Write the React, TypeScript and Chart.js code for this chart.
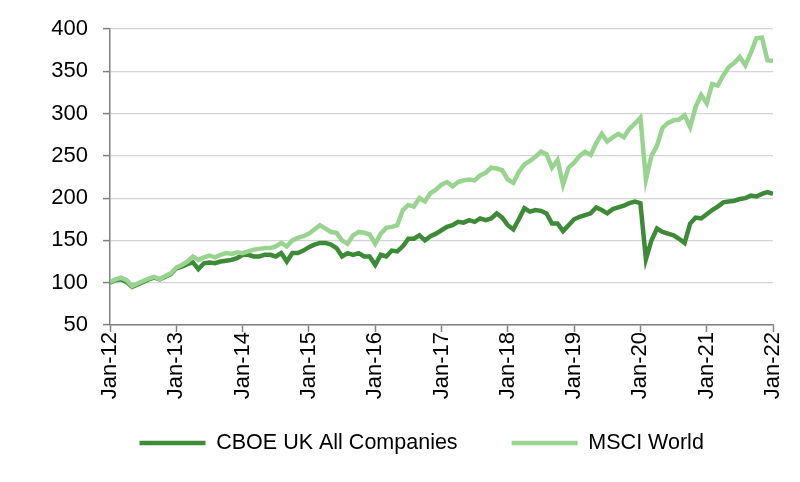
import React, { useEffect, useRef } from "react";
import { Chart, registerables } from "chart.js";

Chart.register(...registerables);

// Month index 0 = Jan-12 ... 120 = Jan-22
const xTickLabels = ["Jan-12", "Jan-13", "Jan-14", "Jan-15", "Jan-16", "Jan-17", "Jan-18", "Jan-19", "Jan-20", "Jan-21", "Jan-22"];

const seriesNames = ["CBOE UK All Companies", "MSCI World"];

const ukAllCompanies = [
  100, 103, 104, 101, 95, 98, 101, 104, 106, 104, 107, 110,
  117, 119, 122, 124, 116, 123, 124, 123, 125, 126, 127, 129,
  133, 133, 131, 131, 133, 133, 131, 135, 125, 135, 135, 138,
  142, 145, 147, 147, 145, 141, 131, 135, 133, 135, 131, 131,
  121, 133, 131, 138, 137, 143, 152, 152, 156, 150, 155, 158,
  162, 166, 168, 172, 171, 174, 172, 176, 174, 176, 182, 177,
  168, 163, 175, 188, 184, 186, 185, 182, 170, 170, 161, 168,
  175, 178, 180, 182, 189, 186, 182, 187, 189, 191, 194, 196,
  194, 128, 150, 164, 160, 158, 156, 152, 147, 170, 177, 176,
  181, 186, 190, 195, 196, 197, 199, 200, 203, 202, 205, 207,
  205,
];

const msciWorld = [
  101, 104, 106, 103, 96, 99, 102, 105, 107, 104, 108, 111,
  118, 121, 125, 131, 127, 130, 132, 130, 133, 135, 134, 136,
  135, 137, 139, 140, 141, 141, 143, 147, 143, 150, 153, 155,
  158, 163, 168, 164, 160, 159, 150, 146, 156, 160, 159, 157,
  146, 158, 165, 166, 168, 186, 192, 190, 200, 196, 206, 210,
  216, 219, 214, 219, 221, 222, 221, 227, 230, 236, 235, 233,
  222, 218, 231, 240, 244, 249, 255, 252, 236, 245, 216, 236,
  242, 250, 255, 251, 265, 276, 267, 272, 276, 272, 282, 288,
  295, 222, 250, 262, 283, 289, 292, 293, 298, 284, 308, 322,
  312, 335, 333, 345, 355, 360, 367, 357, 372, 389, 390, 363,
  362,
];

const darkGreen = "#3d8a37";
const lightGreen = "#98d38f";
const FONT = "'Liberation Sans', Arial, sans-serif";
const LEGEND_PAD = 54;

// Places the legend row (built by Chart.js) where the reference shows it.
const legendPlacer = {
  id: "legendPlacer",
  afterLayout(chart: any) {
    const lg = chart.legend;
    if (!lg) return;
    const h = lg.height;
    lg.top = 443 - LEGEND_PAD - 10.75;
    lg.bottom = lg.top + h;
    const w = lg.width;
    const lw = lg.lineWidths ? lg.lineWidths[0] : 0;
    const start = 139.5;
    const left = (2 * start - LEGEND_PAD - w + lw) / 2;
    lg.left = left;
    lg.right = left + w;
  },
};

export default function App() {
  const canvasRef = useRef<HTMLCanvasElement | null>(null);

  useEffect(() => {
    if (!canvasRef.current) return;
    const chart = new Chart(canvasRef.current, {
      type: "line",
      data: {
        datasets: [
          {
            label: seriesNames[0],
            data: ukAllCompanies.map((v, i) => ({ x: i, y: v })),
            borderColor: darkGreen,
            backgroundColor: darkGreen,
            borderWidth: 4.5,
            pointRadius: 0,
            tension: 0,
            order: 2,
          },
          {
            label: seriesNames[1],
            data: msciWorld.map((v, i) => ({ x: i, y: v })),
            borderColor: lightGreen,
            backgroundColor: lightGreen,
            borderWidth: 4.5,
            pointRadius: 0,
            tension: 0,
            order: 1,
          },
        ],
      },
      plugins: [legendPlacer],
      options: {
        responsive: false,
        animation: false,
        layout: { padding: { left: 0, right: 27, top: 29, bottom: -8 } },
        plugins: {
          tooltip: { enabled: false },
          legend: {
            position: "bottom",
            labels: {
              usePointStyle: true,
              pointStyle: "line",
              pointStyleWidth: 66,
              padding: LEGEND_PAD,
              color: "#000",
              font: { family: FONT, size: 21.5 },
              sort: (a: any, b: any) => a.datasetIndex - b.datasetIndex,
            },
          },
        },
        scales: {
          x: {
            type: "linear",
            min: 0,
            max: 120,
            afterFit: (s: any) => {
              s.height = 79.5;
            },
            ticks: {
              stepSize: 12,
              minRotation: 90,
              maxRotation: 90,
              padding: 0,
              color: "#000",
              font: { family: FONT, size: 22 },
              callback: (v: any) => xTickLabels[Math.round(Number(v) / 12)] ?? "",
            },
            grid: {
              drawOnChartArea: false,
              tickLength: 7,
              tickColor: "#808080",
              tickWidth: 1.5,
            },
            border: { color: "#808080", width: 1.5 },
          },
          y: {
            min: 50,
            max: 400,
            afterFit: (s: any) => {
              s.width = 110;
            },
            ticks: {
              stepSize: 50,
              padding: 15,
              color: "#000",
              font: { family: FONT, size: 22 },
            },
            grid: {
              color: "#d4d4d4",
              lineWidth: 1.2,
              tickLength: 7,
              tickColor: "#808080",
              tickWidth: 1.5,
            },
            border: { color: "#808080", width: 1.5 },
          },
        },
      },
    });
    return () => chart.destroy();
  }, []);

  return (
    <div style={{ position: "absolute", left: 0, top: 0, width: 800, height: 482, background: "#fff" }}>
      <canvas ref={canvasRef} width={800} height={482} />
    </div>
  );
}
